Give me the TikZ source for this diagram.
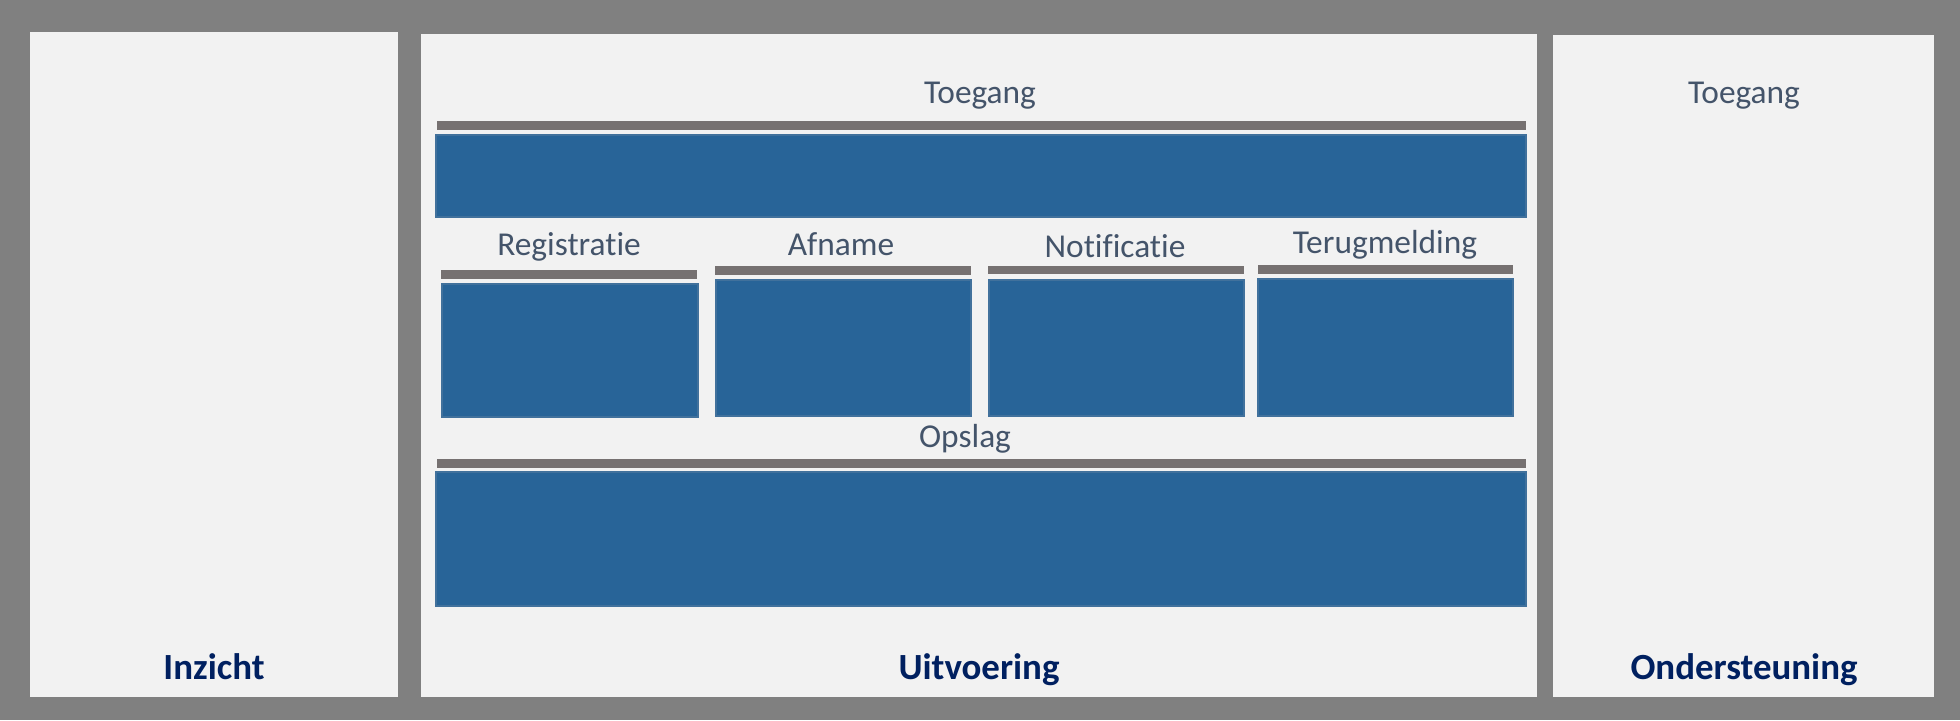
\documentclass[tikz,border=0pt]{standalone}
\usepackage{fontspec}
\setmainfont[Ligatures=NoCommon]{Carlito}
\definecolor{achtergrond}{RGB}{128,128,128}
\definecolor{paneel}{RGB}{242,242,242}
\definecolor{blok}{RGB}{40,100,152}
\definecolor{bloklijn}{RGB}{65,113,156}
\definecolor{balk}{RGB}{118,113,113}
\definecolor{labeltekst}{RGB}{68,84,106}
\definecolor{titeltekst}{RGB}{0,32,96}
\tikzset{
	paneelvlak/.style={fill=paneel},
	blokvlak/.style={fill=blok, draw=bloklijn, line width=0.6pt},
	balkvlak/.style={fill=balk},
	laag/.style={anchor=base, inner sep=0pt, text=labeltekst, font=\fontsize{19}{22}\selectfont},
	titel/.style={anchor=base, inner sep=0pt, text=titeltekst, font=\fontsize{21}{24}\selectfont\bfseries}
}
\begin{document}
\begin{tikzpicture}[x=0.02cm, y=0.02cm]
		\fill[achtergrond] (0,0) rectangle (1960,720);				% Achtergrond
		\useasboundingbox (0,0) rectangle (1960,720);
		\fill[paneelvlak] (30,23) rectangle (398,688);				% Paneel Inzicht
		\fill[paneelvlak] (421,23) rectangle (1537,686);			% Paneel Uitvoering
		\fill[paneelvlak] (1553,23) rectangle (1934,685);			% Paneel Ondersteuning
		
		% Toegang
		\fill[balkvlak] (437,590) rectangle (1526,599);
		\draw[blokvlak] (436,503) rectangle (1526,585);
		\node[laag] (toegang) at (980,616) {Toegang};
		% Registratie
		\fill[balkvlak] (441,441) rectangle (697,450);
		\draw[blokvlak] (442,303) rectangle (698,436);
		\node[laag] (registratie) at (569,464) {Registratie};
		% Afname
		\fill[balkvlak] (715,445) rectangle (971,454);
		\draw[blokvlak] (716,304) rectangle (971,440);
		\node[laag] (afname) at (841,464) {Afname};
		% Notificatie
		\fill[balkvlak] (988,446) rectangle (1244,454);
		\draw[blokvlak] (989,304) rectangle (1244,440);
		\node[laag] (notificatie) at (1115,462) {Notificatie};
		% Terugmelding
		\fill[balkvlak] (1258,446) rectangle (1513,455);
		\draw[blokvlak] (1258,304) rectangle (1513,441);
		\node[laag] (terugmelding) at (1385,466) {Terugmelding};
		% Opslag
		\fill[balkvlak] (437,252) rectangle (1526,261);
		\draw[blokvlak] (436,114) rectangle (1526,248);
		\node[laag] (opslag) at (965,272) {Opslag};
		
		\node[laag] (toegangrechts) at (1744,616) {Toegang};		% Toegang Ondersteuning
		% Titels
		\node[titel] (inzicht) at (214,41) {Inzicht};
		\node[titel] (uitvoering) at (979,41) {Uitvoering};
		\node[titel] (ondersteuning) at (1744,41) {Ondersteuning};
	\end{tikzpicture}
\end{document}
